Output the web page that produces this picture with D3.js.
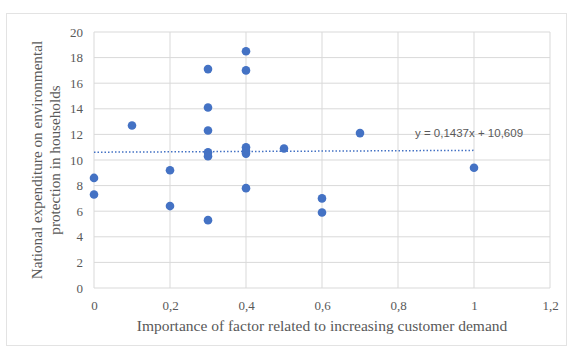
<!DOCTYPE html>
<html><head><meta charset="utf-8">
<script src="https://cdn.jsdelivr.net/npm/d3@7"></script>
<style>body{margin:0;background:#fff}</style>
</head><body>
<svg id="c" width="572" height="347"></svg>
<script>
const xValues = [0, 0, 0.1, 0.2, 0.2, 0.3, 0.3, 0.3, 0.3, 0.3, 0.3, 0.4, 0.4, 0.4, 0.4, 0.4, 0.4, 0.5, 0.6, 0.6, 0.7, 1.0];
const yValues = [8.6, 7.3, 12.7, 9.2, 6.4, 17.1, 14.1, 12.3, 10.6, 10.3, 5.3, 18.5, 17.0, 11.0, 10.7, 10.5, 7.8, 10.9, 7.0, 5.9, 12.1, 9.4];
const xTicks = [0, 0.2, 0.4, 0.6, 0.8, 1, 1.2];
const yTicks = [0, 2, 4, 6, 8, 10, 12, 14, 16, 18, 20];
const trendSlope = 0.1437, trendIntercept = 10.609;
const trendRange = [0, 1];
const trendLabel = "y = 0,1437x + 10,609";
const xTitle = "Importance of factor related to increasing customer demand";
const yTitleLines = ["National expenditure on environmental", "protection in households"];

const svg = d3.select("#c");
const fmt = d => String(d).replace(".", ",");
const x = d3.scaleLinear().domain([0, 1.2]).range([94, 550]);
const y = d3.scaleLinear().domain([0, 20]).range([288, 32]);

svg.append("rect").attr("x", 6.5).attr("y", 13.5).attr("width", 560).attr("height", 332)
  .attr("fill", "#fff").attr("stroke", "#e3e3e3");

// gridlines
svg.append("g").selectAll("line").data(yTicks).join("line")
  .attr("x1", x(0)).attr("x2", x(1.2)).attr("y1", d => y(d)).attr("y2", d => y(d))
  .attr("stroke", "#d9d9d9").attr("stroke-width", 1);
svg.append("g").selectAll("line").data(xTicks).join("line")
  .attr("y1", y(0)).attr("y2", y(20)).attr("x1", d => x(d)).attr("x2", d => x(d))
  .attr("stroke", "#d9d9d9").attr("stroke-width", 1);

// axes labels via d3 axes
const xa = svg.append("g").attr("transform", `translate(0,${y(0)})`)
  .call(d3.axisBottom(x).tickValues(xTicks).tickFormat(fmt).tickSize(0).tickPadding(13));
const ya = svg.append("g").attr("transform", `translate(${x(0)},0)`)
  .call(d3.axisLeft(y).tickValues(yTicks).tickFormat(fmt).tickSize(0).tickPadding(11));
[xa, ya].forEach(a => {
  a.select(".domain").remove();
  a.selectAll("text").attr("font-family", "Liberation Serif").attr("font-size", 13).attr("fill", "#595959");
});

// trendline
svg.append("line")
  .attr("x1", x(trendRange[0])).attr("y1", y(trendSlope * trendRange[0] + trendIntercept))
  .attr("x2", x(trendRange[1])).attr("y2", y(trendSlope * trendRange[1] + trendIntercept))
  .attr("stroke", "#4472C4").attr("stroke-width", 1.5).attr("stroke-dasharray", "1.5,2");

// points
svg.append("g").selectAll("circle").data(xValues.map((v, i) => [v, yValues[i]])).join("circle")
  .attr("cx", d => x(d[0])).attr("cy", d => y(d[1])).attr("r", 4.3).attr("fill", "#4472C4");

svg.append("text").attr("x", 469).attr("y", 137).attr("text-anchor", "middle")
  .attr("font-family", "Liberation Sans").attr("font-size", 11.5).attr("fill", "#595959").text(trendLabel);

svg.append("text").attr("x", (x(0) + x(1.2)) / 2).attr("y", 331).attr("text-anchor", "middle")
  .attr("font-family", "Liberation Serif").attr("font-size", 15.5).attr("fill", "#595959").text(xTitle);

svg.append("g").attr("transform", `translate(0,${(y(0) + y(20)) / 2}) rotate(-90)`)
  .selectAll("text").data(yTitleLines).join("text")
  .attr("x", 0).attr("y", (d, i) => 42 + i * 18).attr("text-anchor", "middle")
  .attr("font-family", "Liberation Serif").attr("font-size", 15.2).attr("fill", "#595959").text(d => d);
</script>
</body></html>
